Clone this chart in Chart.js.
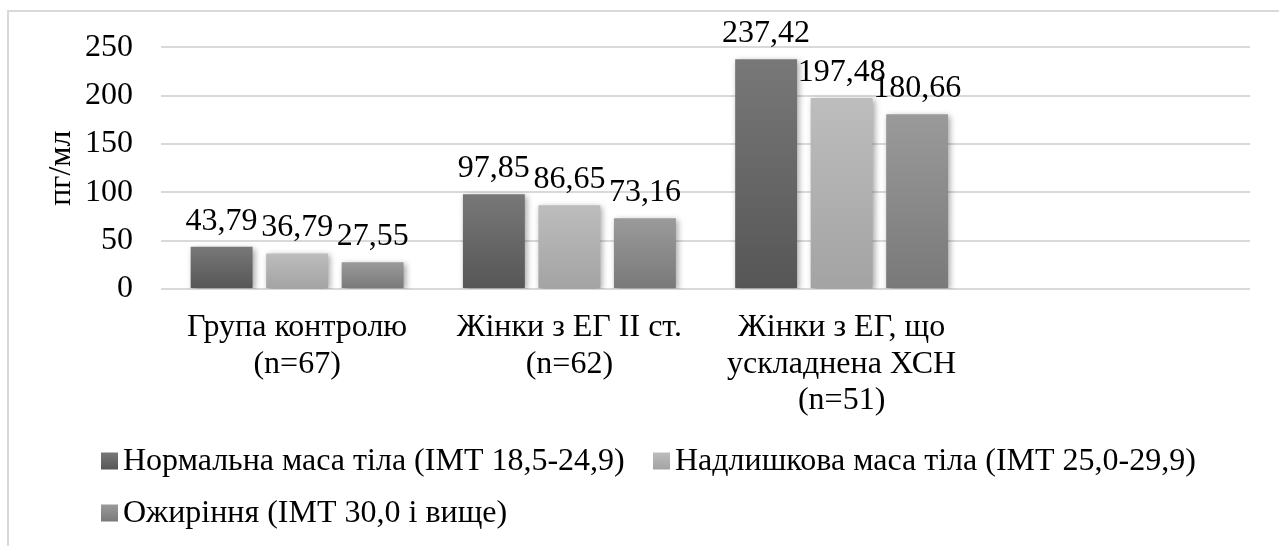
<!DOCTYPE html>
<html>
<head>
<meta charset="utf-8">
<script src="https://cdn.jsdelivr.net/npm/chart.js@4.4.1/dist/chart.umd.min.js"></script>
<style>
  html, body { margin: 0; padding: 0; background: #fff; overflow: hidden; }
  #frame { position: absolute; left: 7px; top: 10px; width: 1300px; height: 560px; border: 2px solid #d9d9d9; }
  #wrap { position: absolute; left: 0; top: 0; width: 1279px; height: 546px; }
</style>
</head>
<body>
<div id="frame"></div>
<div id="wrap"><canvas id="chart"></canvas></div>
<script>
// data
const categories = [
    ['Група контролю', '(n=67)'],
    ['Жінки з ЕГ II ст.', '(n=62)'],
    ['Жінки з ЕГ, що', 'ускладнена ХСН', '(n=51)'],
    ''
];
const seriesNames = [
    'Нормальна маса тіла (ІМТ 18,5-24,9)',
    'Надлишкова маса тіла (ІМТ 25,0-29,9)',
    'Ожиріння (ІМТ 30,0 і вище)'
];
const normalWeight = [43.79, 97.85, 237.42, null];
const overWeight = [36.79, 86.65, 197.48, null];
const obesity = [27.55, 73.16, 180.66, null];
const yTicks = [0, 50, 100, 150, 200, 250];

// top / bottom colour of each bar gradient
const barColors = [['#787878', '#565656'], ['#bdbdbd', '#a3a3a3'], ['#9a9a9a', '#797979']];

const FONT = '"Liberation Serif", "Times New Roman", serif';
const FONT_SIZE = 32;

function barFill(i) {
    return function (ctx) {
        const c = barColors[i];
        const chart = ctx.chart;
        if (ctx.type !== 'data' || !chart.chartArea || ctx.raw == null) return c[0];
        const y = chart.scales.y;
        const top = y.getPixelForValue(ctx.raw);
        const base = y.getPixelForValue(0);
        const g = chart.ctx.createLinearGradient(0, top, 0, base);
        g.addColorStop(0, c[0]);
        g.addColorStop(1, c[1]);
        return g;
    };
}

const barShadow = {
    id: 'barShadow',
    beforeDatasetsDraw(chart) {
        const c = chart.ctx;
        c.save();
        c.shadowColor = 'rgba(0,0,0,0.35)';
        c.shadowBlur = 6;
        c.shadowOffsetX = 2;
        c.shadowOffsetY = 2;
    },
    afterDatasetsDraw(chart) {
        chart.ctx.restore();
    }
};

const valueLabels = {
    id: 'valueLabels',
    afterDatasetsDraw(chart) {
        const c = chart.ctx;
        c.save();
        c.font = FONT_SIZE + 'px ' + FONT;
        c.fillStyle = '#000';
        c.textAlign = 'center';
        c.textBaseline = 'alphabetic';
        chart.data.datasets.forEach((ds, i) => {
            chart.getDatasetMeta(i).data.forEach((bar, j) => {
                const v = ds.data[j];
                if (v == null) return;
                const y = Math.max(bar.y - 17, 42);
                c.fillText(v.toFixed(2).replace('.', ','), bar.x, y);
            });
        });
        c.restore();
    }
};

const boxLegend = {
    id: 'boxLegend',
    afterDraw(chart) {
        const c = chart.ctx;
        c.save();
        c.font = FONT_SIZE + 'px ' + FONT;
        c.textBaseline = 'middle';
        chart.data.datasets.forEach((ds, i) => {
            const x = 101 + (i % 2) * 552;
            const y = 461 + Math.floor(i / 2) * 52;
            const g = c.createLinearGradient(0, y - 8.5, 0, y + 8.5);
            g.addColorStop(0, barColors[i][0]);
            g.addColorStop(1, barColors[i][1]);
            c.fillStyle = g;
            c.fillRect(x, y - 8.5, 17, 17);
            c.fillStyle = '#000';
            c.fillText(ds.label, x + 22, y + 1);
        });
        c.restore();
    }
};

const ctx = document.getElementById('chart').getContext('2d');
new Chart(ctx, {
    type: 'bar',
    data: {
        labels: categories,
        datasets: [
            { label: seriesNames[0], data: normalWeight, backgroundColor: barFill(0) },
            { label: seriesNames[1], data: overWeight, backgroundColor: barFill(1) },
            { label: seriesNames[2], data: obesity, backgroundColor: barFill(2) }
        ]
    },
    options: {
        responsive: true,
        maintainAspectRatio: false,
        animation: false,
        datasets: {
            bar: { categoryPercentage: 0.832, barPercentage: 0.82 }
        },
        layout: { padding: { top: 40, right: 29, left: 0, bottom: 0 } },
        plugins: {
            legend: { display: false },
            tooltip: { enabled: false }
        },
        scales: {
            x: {
                afterFit: s => { s.height = 546 - 289; },
                grid: { display: false, drawTicks: false },
                border: { display: false },
                ticks: {
                    padding: 20,
                    color: '#000',
                    maxRotation: 0,
                    autoSkip: false,
                    font: { family: FONT, size: FONT_SIZE, lineHeight: 1.15 }
                }
            },
            y: {
                min: 0,
                max: 250,
                afterFit: s => { s.width = 161; },
                afterBuildTicks: s => { s.ticks = yTicks.map(v => ({ value: v })); },
                grid: { color: '#d9d9d9', lineWidth: 2, drawTicks: false },
                border: { display: false },
                ticks: {
                    padding: 28,
                    color: '#000',
                    font: { family: FONT, size: FONT_SIZE }
                },
                title: {
                    display: true,
                    text: 'пг/мл',
                    color: '#000',
                    font: { family: FONT, size: FONT_SIZE, lineHeight: 1.2 },
                    padding: { top: 42, bottom: 0 }
                }
            }
        }
    },
    plugins: [barShadow, valueLabels, boxLegend]
});
</script>
</body>
</html>
